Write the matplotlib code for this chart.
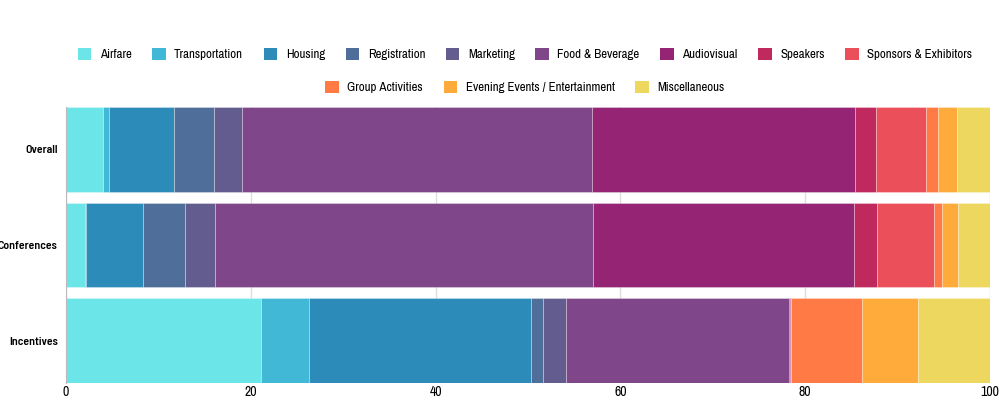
import numpy as np
import matplotlib.pyplot as plt
from matplotlib.patches import Patch

plt.rcParams['font.family'] = ['Archivo Narrow', 'DejaVu Sans']

groups = ['Overall', 'Conferences', 'Incentives']
categories = ['Airfare', 'Transportation', 'Housing', 'Registration', 'Marketing',
              'Food & Beverage', 'Audiovisual', 'Speakers', 'Sponsors & Exhibitors',
              'Group Activities', 'Evening Events / Entertainment', 'Miscellaneous']
colors = ['#6ce5e8', '#41b8d5', '#2d8bba', '#506e9a', '#635d8f', '#7f4789',
          '#952474', '#c0295d', '#eb4f59', '#ff7a45', '#ffab3b', '#eed75e']

overall = [4.0, 0.7, 7.0, 4.3, 3.0, 37.9, 28.5, 2.3, 5.4, 1.3, 2.0, 3.6]
conferences = [2.1, 0.1, 6.1, 4.6, 3.2, 40.9, 28.3, 2.5, 6.1, 0.9, 1.7, 3.5]
incentives = [21.1, 5.2, 24.0, 1.3, 2.5, 24.1, 0.2, 0.1, 0.0, 7.6, 6.1, 7.8]

data = np.array([overall, conferences, incentives])

fig = plt.figure(figsize=(10, 4), dpi=100)
ax = fig.add_axes([0.066, 0.0425, 0.924, 0.69])

y = np.arange(len(groups))
left = np.zeros(len(groups))
for i, cat in enumerate(categories):
    ax.barh(y, data[:, i], left=left, height=0.89, color=colors[i],
            edgecolor=(1, 1, 1, 0.35), linewidth=0.6, label=cat, zorder=2)
    left += data[:, i]

ax.set_xlim(0, 100)
ax.set_ylim(2.445, -0.445)
ax.set_yticks(y)
ax.set_yticklabels(groups, fontsize=8.5, fontweight='semibold',
                   family=['Barlow Semi Condensed', 'DejaVu Sans'])
ax.set_xticks([0, 20, 40, 60, 80, 100])
ax.tick_params(axis='x', length=0, labelsize=10, pad=1.5)
ax.tick_params(axis='y', length=0, pad=6)
ax.grid(axis='x', color='#dddddd', linewidth=1, zorder=0)
for s in ['top', 'right', 'bottom']:
    ax.spines[s].set_visible(False)
ax.spines['left'].set_color('#bbbbbb')

handles = [Patch(facecolor=c, edgecolor='none', label=l) for c, l in zip(colors, categories)]
legend_kw = dict(loc='center', frameon=False, fontsize=9.3, handlelength=1.05,
                 handleheight=1.05, columnspacing=1.6, handletextpad=0.65)
leg1 = fig.legend(handles=handles[:9], bbox_to_anchor=(0.525, 1 - 54 / 400), ncol=9, **legend_kw)
leg2 = fig.legend(handles=handles[9:], bbox_to_anchor=(0.525, 1 - 87 / 400), ncol=3, **legend_kw)

fig.savefig('out.png', dpi=100)
